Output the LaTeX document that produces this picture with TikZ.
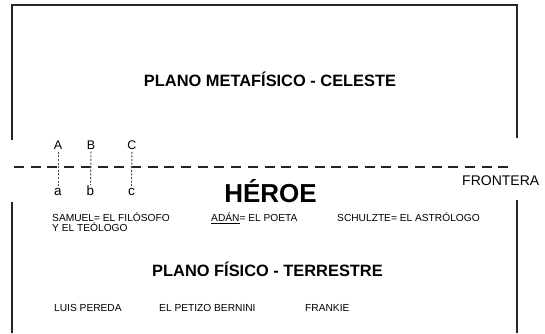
\documentclass[tikz,border=0pt]{standalone}
\usepackage{fontspec}
\setmainfont{Liberation Sans}
\begin{document}
\begin{tikzpicture}[x=1pt,y=-1pt,
  frame/.style={line width=2pt,black!85},
  border/.style={line width=2.2pt,dash pattern=on 10pt off 6.7pt,black!85},
  tick/.style={line width=1pt,dash pattern=on 2pt off 1.6pt,black!70},
  title/.style={font=\fontsize{16.4}{18}\selectfont\bfseries,anchor=base,inner sep=0pt},
  hero/.style={font=\fontsize{26}{28}\selectfont\bfseries,anchor=base,inner sep=0pt},
  small/.style={font=\fontsize{10.2}{10}\selectfont,anchor=base west,inner sep=0pt,align=left},
  letter/.style={font=\fontsize{12.5}{13}\selectfont,anchor=base,inner sep=0pt},
  lower/.style={font=\fontsize{13.5}{14}\selectfont,anchor=base,inner sep=0pt},
  fr/.style={font=\fontsize{14}{15}\selectfont,anchor=base west,inner sep=0pt}]
\useasboundingbox (0,0) rectangle (545,333);
% frame
\coordinate (ltop) at (12,140);
\coordinate (tl) at (12,5);
\coordinate (tr) at (517,5);
\coordinate (rtop) at (517,138);
\coordinate (lbot) at (12,202);
\coordinate (lend) at (12,333);
\coordinate (rbot) at (517,200);
\coordinate (rend) at (517,333);
\draw[frame] (ltop) -- (tl) -- (tr) -- (rtop);
\draw[frame] (lbot) -- (lend);
\draw[frame] (rbot) -- (rend);
% border line
\coordinate (bl) at (14,167);
\coordinate (br) at (512,167);
\draw[border] (bl) -- (br);
\node[fr] (frontera) at (462,185) {FRONTERA};
% titles
\node[title] (meta) at (270,86) {PLANO METAFÍSICO - CELESTE};
\node[title] (fisico) at (267.5,276) {PLANO FÍSICO - TERRESTRE};
\node[hero] (heroe) at (270.5,202) {HÉROE};
% letters
\node[letter] (A) at (58,149) {A};
\node[letter] (B) at (91,149) {B};
\node[letter] (C) at (132,149) {C};
\node[lower] (a) at (58,195) {a};
\node[lower] (b) at (90.5,195) {b};
\node[lower] (c) at (131.5,195) {c};
\draw[tick] (A.south) ++(0,2.5) -- (a.north);
\draw[tick] (B.south) ++(0,2.5) -- (b.north);
\draw[tick] (C.south) ++(0,2.5) -- (c.north);
% names
\node[small] (samuel) at (52,231.7) {SAMUEL= EL FILÓSOFO\\Y EL TEÓLOGO};
\node[small] (adan) at (211,221.7) {\underline{ADÁN}= EL POETA};
\node[small] (schulzte) at (337,221.7) {SCHULZTE= EL ASTRÓLOGO};
\node[small] (luis) at (54,311) {LUIS PEREDA};
\node[small] (petizo) at (159,311) {EL PETIZO BERNINI};
\node[small] (frankie) at (305,311) {FRANKIE};
\end{tikzpicture}
\end{document}
